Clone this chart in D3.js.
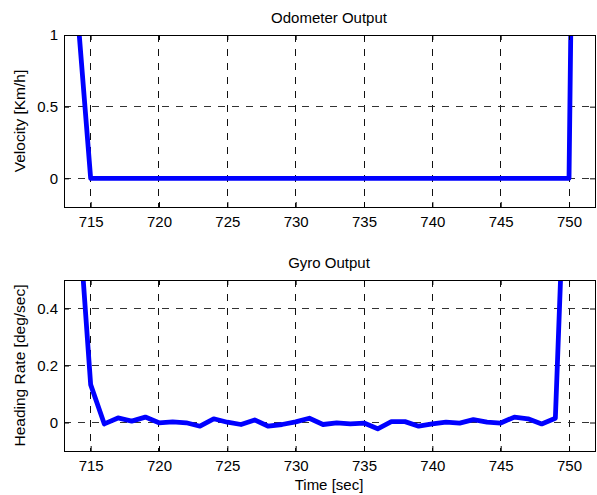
<!DOCTYPE html>
<html>
<head>
<meta charset="utf-8">
<script src="https://cdn.jsdelivr.net/npm/d3@7"></script>
<style>
  body { margin: 0; background: #fff; }
  svg text { font-family: "Liberation Sans", Arial, Helvetica, sans-serif; fill: #000; }
</style>
</head>
<body>
<div id="chart"></div>
<script>
// time axis ticks (seconds)
const timeTicks = [715, 720, 725, 730, 735, 740, 745, 750];

// odometer samples, one per second
const odoTime = [714, 715, 716, 717, 718, 719, 720, 721, 722, 723, 724, 725, 726, 727, 728, 729, 730,
    731, 732, 733, 734, 735, 736, 737, 738, 739, 740, 741, 742, 743, 744, 745, 746, 747, 748, 749, 750, 751];
const odoVelocity = [1.2, 0, 0, 0, 0, 0, 0, 0, 0, 0, 0, 0, 0, 0, 0, 0, 0,
    0, 0, 0, 0, 0, 0, 0, 0, 0, 0, 0, 0, 0, 0, 0, 0, 0, 0, 0, 0, 8];
const odoTicks = [0, 0.5, 1];
const odoTickLabels = ["0", "0.5", "1"];

// gyro samples, one per second
const gyroTime = [714, 715, 716, 717, 718, 719, 720, 721, 722, 723, 724, 725, 726, 727, 728, 729, 730,
    731, 732, 733, 734, 735, 736, 737, 738, 739, 740, 741, 742, 743, 744, 745, 746, 747, 748, 749, 750];
const gyroRate = [0.81, 0.133, -0.005, 0.016, 0.005, 0.019, -0.001, 0.002, -0.001, -0.013, 0.013, 0.001, -0.007,
    0.009, -0.013, -0.007, 0.002, 0.015, -0.007, -0.001, -0.005, -0.002, -0.022, 0.003, 0.003, -0.013,
    -0.005, 0.001, -0.002, 0.01, 0.001, -0.002, 0.019, 0.013, -0.005, 0.015, 1.3];
const gyroTicks = [0, 0.2, 0.4];
const gyroTickLabels = ["0", "0.2", "0.4"];

const W = 597, H = 495;
const FONT = 15;

var svg = d3.select("#chart").append("svg")
    .attr("width", W)
    .attr("height", H);

function drawPanel(cfg) {
    var x = d3.scaleLinear().domain([713.05, 751.9]).range([64, 595]);
    var y = d3.scaleLinear().domain(cfg.yDomain).range([cfg.bottom, cfg.top]);
    var g = svg.append("g");

    // clip for the data line
    g.append("clipPath").attr("id", cfg.id + "_clip")
        .append("rect")
        .attr("x", x.range()[0]).attr("y", cfg.top)
        .attr("width", x.range()[1] - x.range()[0])
        .attr("height", cfg.bottom - cfg.top);

    // grid
    g.append("g").selectAll("line").data(timeTicks).enter().append("line")
        .attr("x1", d => x(d)).attr("x2", d => x(d))
        .attr("y1", cfg.top).attr("y2", cfg.bottom)
        .attr("stroke", "#111").attr("stroke-width", 1)
        .attr("stroke-dasharray", "7,7")
        .attr("shape-rendering", "crispEdges");
    g.append("g").selectAll("line").data(cfg.yTicks).enter().append("line")
        .attr("x1", x.range()[0]).attr("x2", x.range()[1])
        .attr("y1", d => y(d)).attr("y2", d => y(d))
        .attr("stroke", "#333").attr("stroke-width", 1)
        .attr("stroke-dasharray", "7,7")
        .attr("shape-rendering", "crispEdges");

    // data line
    var line = d3.line().x(d => x(d[0])).y(d => y(d[1]));
    g.append("path")
        .datum(cfg.xs.map((t, i) => [t, cfg.ys[i]]))
        .attr("clip-path", "url(#" + cfg.id + "_clip)")
        .attr("fill", "none")
        .attr("stroke", "#0000ff")
        .attr("stroke-width", 4.8)
        .attr("stroke-linejoin", "round")
        .attr("d", line);

    // axes: ticks inside on all four sides
    var bottomAx = g.append("g")
        .attr("transform", "translate(0," + cfg.bottom + ")")
        .call(d3.axisBottom(x).tickValues(timeTicks).tickSizeInner(-5).tickSizeOuter(0).tickPadding(9));
    var topAx = g.append("g")
        .attr("transform", "translate(0," + cfg.top + ")")
        .call(d3.axisTop(x).tickValues(timeTicks).tickSizeInner(-5).tickSizeOuter(0).tickFormat(""));
    var leftAx = g.append("g")
        .attr("transform", "translate(" + x.range()[0] + ",0)")
        .call(d3.axisLeft(y).tickValues(cfg.yTicks).tickSizeInner(-5).tickSizeOuter(0).tickPadding(6)
            .tickFormat((d, i) => cfg.yTickLabels[i]));
    var rightAx = g.append("g")
        .attr("transform", "translate(" + x.range()[1] + ",0)")
        .call(d3.axisRight(y).tickValues(cfg.yTicks).tickSizeInner(-5).tickSizeOuter(0).tickFormat(""));

    [bottomAx, topAx, leftAx, rightAx].forEach(ax => {
        ax.select(".domain").remove();
        ax.selectAll("line").attr("stroke", "#000");
        ax.selectAll("text")
            .style("font-family", "'Liberation Sans', Arial, sans-serif")
            .style("font-size", FONT + "px")
            .attr("fill", "#000");
    });

    // box
    g.append("rect")
        .attr("x", x.range()[0]).attr("y", cfg.top)
        .attr("width", x.range()[1] - x.range()[0])
        .attr("height", cfg.bottom - cfg.top)
        .attr("fill", "none").attr("stroke", "#000").attr("stroke-width", 1)
        .attr("shape-rendering", "crispEdges");

    // title
    g.append("text")
        .attr("x", 329).attr("y", cfg.top - 12)
        .attr("text-anchor", "middle")
        .style("font-size", FONT + "px")
        .text(cfg.title);

    // y label
    g.append("text")
        .attr("transform", "translate(25," + ((cfg.top + cfg.bottom) / 2) + ") rotate(-90)")
        .attr("text-anchor", "middle")
        .style("font-size", (FONT + 0.5) + "px")
        .text(cfg.ylabel);

    return x;
}

drawPanel({
    id: "odo", top: 35, bottom: 207, yDomain: [-0.2, 1],
    yTicks: odoTicks, yTickLabels: odoTickLabels,
    xs: odoTime, ys: odoVelocity,
    title: "Odometer Output", ylabel: "Velocity [Km/h]"
});

drawPanel({
    id: "gyro", top: 280, bottom: 451, yDomain: [-0.1, 0.5],
    yTicks: gyroTicks, yTickLabels: gyroTickLabels,
    xs: gyroTime, ys: gyroRate,
    title: "Gyro Output", ylabel: "Heading Rate [deg/sec]"
});

// x label
svg.append("text")
    .attr("x", 329).attr("y", 490)
    .attr("text-anchor", "middle")
    .style("font-size", FONT + "px")
    .text("Time [sec]");
</script>
</body>
</html>
